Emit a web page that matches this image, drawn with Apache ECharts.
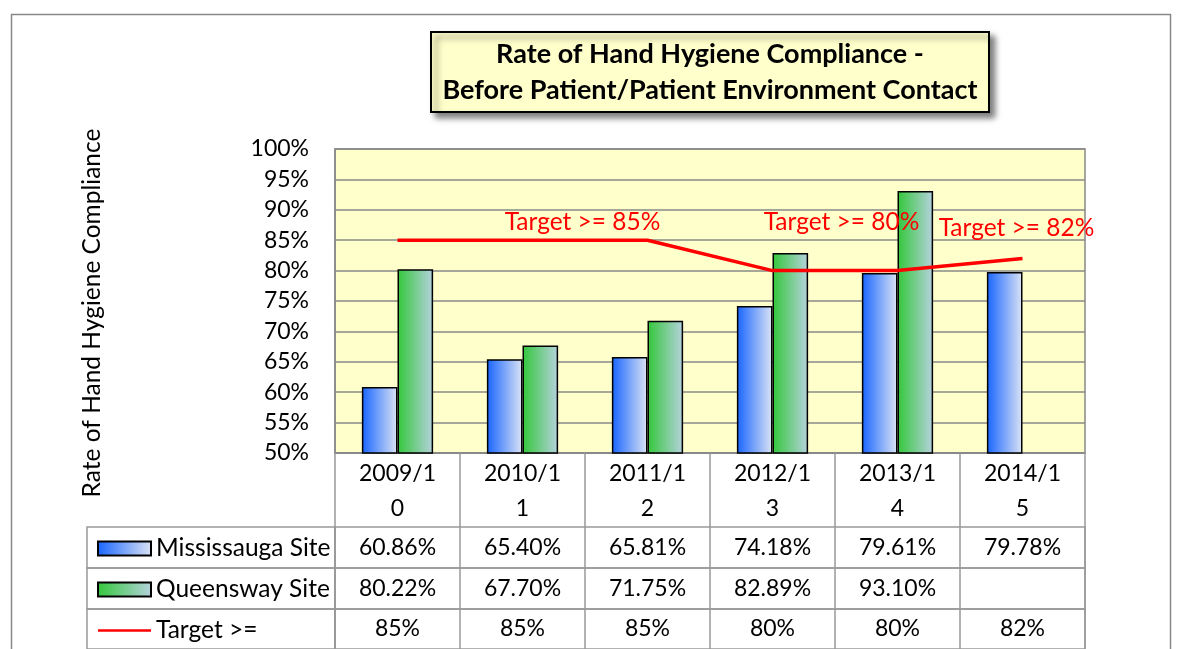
<!DOCTYPE html>
<html>
<head>
<meta charset="utf-8">
<script src="https://cdn.jsdelivr.net/npm/echarts@6/dist/echarts.min.js"></script>
<style>
html, body { margin: 0; padding: 0; background: #fff; }
#main { width: 1180px; height: 649px; }
</style>
</head>
<body>
<div id="main"></div>
<script>
// 회계연도 카테고리
let yearList = ['2009/10', '2010/11', '2011/12', '2012/13', '2013/14', '2014/15'];
// 사이트별 준수율 (%)
let missList = [60.86, 65.40, 65.81, 74.18, 79.61, 79.78];
let queenList = [80.22, 67.70, 71.75, 82.89, 93.10, null];
// 목표치 (%)
let targetList = [85, 85, 85, 80, 80, 82];
// 축 눈금
let yMin = 50;
let yMax = 100;
let yStep = 5;
let seriesNames = ['Mississauga Site', 'Queensway Site', 'Target >='];

let font = 'Lato';
let fnum = 23;		// 숫자 글자 크기
let ftxt = 24.5;	// 문장 글자 크기
let lineGray = '#999';

// 목표 라벨 위치 (선 위 점 기준)
let targetLabelOffset = [null, [60, -18], null, [69, -49], null, [-6, -30]];

// 표 행 위치
let rowTops = [527, 568, 609];
let rowH = 41;

// 표에 들어가는 문자열
let rowTexts = [
	missList.map(v => v == null ? '' : v.toFixed(2) + '%'),
	queenList.map(v => v == null ? '' : v.toFixed(2) + '%'),
	targetList.map(v => v + '%')
];

let grids = [
	{left: 335, right: 95, top: 149, bottom: 196, show: true,
		backgroundColor: '#FFFFCC', borderColor: '#888', borderWidth: 1.5}
];
let xAxes = [
	{
		type: 'category', gridIndex: 0, data: yearList,
		axisLine: {show: true, lineStyle: {color: '#888', width: 1.5}},
		axisTick: {show: true, length: 74, interval: 0, lineStyle: {color: lineGray, width: 1.5}},
		axisLabel: {
			interval: 0, margin: 3, color: '#000', fontFamily: font, fontSize: fnum, lineHeight: 35,
			formatter: v => v.slice(0, 6) + '\n' + v.slice(6)
		}
	}
];
let yAxes = [
	{
		type: 'value', gridIndex: 0, min: yMin, max: yMax, interval: yStep,
		name: 'Rate of Hand Hygiene Compliance', nameLocation: 'middle', nameGap: 230,
		nameTextStyle: {color: '#000', fontFamily: font, fontSize: ftxt, padding: [0, 24, 0, 0]},
		axisLine: {show: true, lineStyle: {color: '#888', width: 1.5}},
		axisTick: {show: false},
		splitLine: {lineStyle: {color: '#888', width: 1.5}},
		axisLabel: {color: '#000', fontFamily: font, fontSize: fnum, margin: 26, formatter: '{value}%'}
	}
];

// 표 행마다 범례 칸과 값 칸을 grid로 만든다
for (let i = 0; i < rowTops.length; i++) {
	grids.push({left: 87, width: 248, top: rowTops[i], height: rowH, show: true,
		borderColor: lineGray, borderWidth: 1.5, backgroundColor: 'transparent'});
}
for (let i = 0; i < rowTops.length; i++) {
	grids.push({left: 335, right: 95, top: rowTops[i], height: rowH, show: true,
		borderColor: lineGray, borderWidth: 1.5, backgroundColor: 'transparent'});
	let texts = rowTexts[i];
	xAxes.push({
		type: 'category', gridIndex: 4 + i, data: yearList,
		axisLine: {show: false},
		axisTick: {show: false},
		splitLine: {show: true, interval: 0, lineStyle: {color: lineGray, width: 1.5}},
		axisLabel: {
			interval: 0, margin: -rowH / 2, verticalAlign: 'middle', color: '#000',
			fontFamily: font, fontSize: fnum,
			formatter: (v, idx) => texts[idx]
		}
	});
	yAxes.push({type: 'value', gridIndex: 4 + i, show: false, splitLine: {show: false}});
}

let blueFill = new echarts.graphic.LinearGradient(0, 0, 1, 0, [
	{offset: 0, color: '#1865FF'},
	{offset: 1, color: '#DCE4F4'}
]);
let greenFill = new echarts.graphic.LinearGradient(0, 0, 1, 0, [
	{offset: 0, color: '#33C73A'},
	{offset: 1, color: '#B6D2DE'}
]);

let targetData = targetList.map((v, i) => {
	let item = {value: v};
	if (targetLabelOffset[i]) {
		item.label = {
			show: true, position: 'inside', offset: targetLabelOffset[i],
			formatter: 'Target >= ' + v + '%',
			color: '#FF0000', fontFamily: font, fontSize: ftxt
		};
	}
	return item;
});

var myChart = echarts.init(document.getElementById('main'));
var option = {
	animation: false,
	title: {
		text: 'Rate of Hand Hygiene Compliance -\nBefore Patient/Patient Environment Contact',
		left: 698, top: 32, textAlign: 'center',
		padding: [4, 12],
		backgroundColor: '#FFFFCC',
		borderColor: '#000', borderWidth: 2,
		shadowBlur: 6, shadowColor: 'rgba(0,0,0,0.5)', shadowOffsetX: 5, shadowOffsetY: 5,
		textStyle: {color: '#000', fontFamily: font, fontWeight: 'bold', fontSize: 27, lineHeight: 36}
	},
	legend: {
		data: [
			{name: seriesNames[0], icon: 'rect'},
			{name: seriesNames[1], icon: 'rect'},
			{name: seriesNames[2], icon: 'path://M0,0H20V1H0Z'}
		],
		orient: 'vertical', left: 97, top: 536, padding: 0,
		itemWidth: 53, itemHeight: 14, itemGap: 16,
		selectedMode: false,
		textStyle: {color: '#000', fontFamily: font, fontSize: ftxt}
	},
	graphic: [
		{type: 'rect', left: 9, top: 12, silent: true, z: -10,
			shape: {width: 1159, height: 700},
			style: {fill: 'none', stroke: '#888', lineWidth: 1.5}}
	],
	grid: grids,
	xAxis: xAxes,
	yAxis: yAxes,
	series: [
		{
			name: seriesNames[0], type: 'bar', data: missList,
			barGap: '0%', barCategoryGap: '43%',
			itemStyle: {color: blueFill, borderColor: '#000', borderWidth: 1.5}
		},
		{
			name: seriesNames[1], type: 'bar', data: queenList,
			itemStyle: {color: greenFill, borderColor: '#000', borderWidth: 1.5}
		},
		{
			name: seriesNames[2], type: 'line', data: targetData, z: 5,
			symbol: 'circle', symbolSize: 0,
			lineStyle: {color: '#FF0000', width: 3.5},
			itemStyle: {color: '#FF0000'}
		}
	]
};
myChart.setOption(option);
</script>
</body>
</html>
